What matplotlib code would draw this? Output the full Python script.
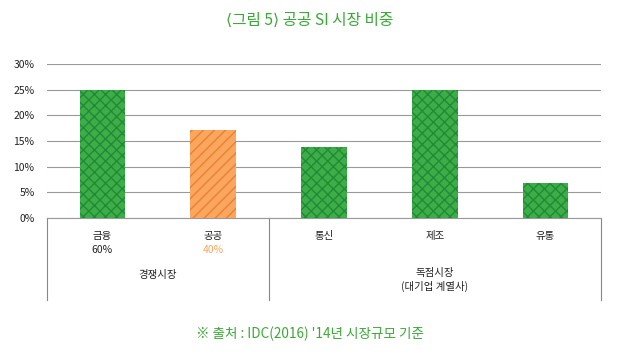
import matplotlib.pyplot as plt
import matplotlib.transforms as mtransforms

plt.rcParams['font.family'] = ['Noto Sans CJK KR', 'DejaVu Sans']
plt.rcParams['hatch.linewidth'] = 1.0

# données
categories = ['금융', '공공', '통신', '제조', '유통']
shares = [25.0, 17.2, 13.9, 25.0, 6.9]
sub_labels = ['60%', '40%', '', '', '']
groups = ['경쟁시장', '독점시장\n(대기업 계열사)']
yticks = [0, 5, 10, 15, 20, 25, 30]

green = '#3cae45'
green_dark = '#23893a'
orange = '#f9a75e'
orange_dark = '#f07e32'
title_green = '#3aa935'

fig = plt.figure(figsize=(6.19, 3.59), dpi=100)
ax = fig.add_axes([47 / 619, 141 / 359, 554 / 619, 154 / 359])

x = list(range(len(categories)))
colors = [green, orange, green, green, green]
hatch_colors = [green_dark, orange_dark, green_dark, green_dark, green_dark]
hatches = ['xxx', '///', 'xxx', 'xxx', 'xxx']
for i in x:
    ax.bar(i, shares[i], width=0.41, color=colors[i], edgecolor=hatch_colors[i],
           hatch=hatches[i], linewidth=0, zorder=3)

ax.set_xlim(-0.5, 4.5)
ax.set_ylim(0, 30)
ax.set_yticks(yticks)
ax.set_yticklabels([f'{t}%' for t in yticks], fontsize=7.5, color='#222222')
ax.set_xticks([])
ax.tick_params(axis='y', length=0, pad=9)
ax.grid(axis='y', color='#999999', linewidth=0.8, zorder=0)
for s in ['top', 'right', 'left']:
    ax.spines[s].set_visible(False)
ax.spines['bottom'].set_color('#999999')
ax.spines['bottom'].set_linewidth(0.8)

# séparateurs sous l'axe
trans = mtransforms.blended_transform_factory(ax.transData, ax.transAxes)
for xs in [-0.5, 1.5, 4.5]:
    ax.plot([xs, xs], [0, -0.53], transform=trans, color='#888888',
            linewidth=0.8, clip_on=False)

for i in x:
    ax.text(i, -0.12, categories[i], transform=trans, ha='center', va='center',
            fontsize=7.5, color='#222222')
    if sub_labels[i]:
        c = orange if i == 1 else '#222222'
        ax.text(i, -0.205, sub_labels[i], transform=trans, ha='center', va='center',
                fontsize=7.5, color=c)

ax.text(0.5, -0.37, groups[0], transform=trans, ha='center', va='center',
        fontsize=7.5, color='#222222')
ax.text(3.0, -0.40, groups[1], transform=trans, ha='center', va='center',
        fontsize=7.5, color='#222222', linespacing=1.3)

fig.text(0.5, 1 - 20 / 359, '⟨그림 5⟩ 공공 SI 시장 비중', ha='center', va='center',
         fontsize=11.3, color=title_green)
fig.text(0.5, 1 - 334 / 359, "※ 출처 : IDC(2016) '14년 시장규모 기준", ha='center',
         va='center', fontsize=9.8, color=title_green)

fig.savefig('out.png', dpi=100)
